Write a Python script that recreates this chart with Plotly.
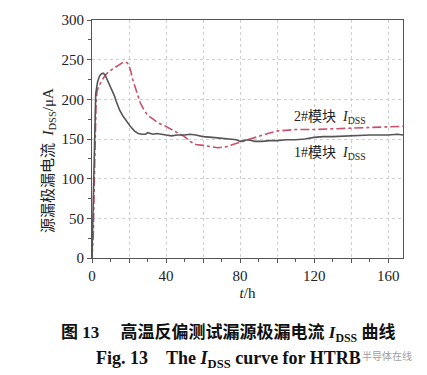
import plotly.graph_objects as go

t1 = [0, 0.5, 1, 1.5, 2, 3, 4, 5, 6, 7, 8, 9, 10, 11, 12, 13, 14, 15, 17, 19, 21, 23, 25, 27, 29, 30, 31, 33, 35, 37, 40, 43, 46, 50, 53, 56, 60, 65, 70, 75, 78, 80, 82, 84, 86, 88, 92, 96, 100, 105, 110, 115, 120, 125, 130, 140, 150, 160, 165, 168]
i1 = [0, 60, 130, 180, 207, 222, 229, 232, 233, 231, 226, 220, 214, 210, 205, 198, 192, 186, 178, 171, 165, 160, 157, 156, 156, 158, 157, 156, 157, 156, 155, 154, 155, 155, 156, 155, 153, 152, 151, 150, 149, 147, 148, 149, 148, 147, 147, 148, 148, 149, 149, 150, 152, 153, 153, 154, 155, 155, 156, 155]

t2 = [0, 0.7, 1.2, 1.7, 2.2, 2.7, 3.5, 5, 7, 9, 11, 13, 15, 17, 18, 19, 20, 21, 22, 24, 26, 28, 30, 33, 36, 39, 42, 46, 50, 53, 56, 60, 65, 68, 72, 76, 80, 85, 90, 95, 100, 105, 110, 120, 130, 140, 150, 160, 168]
i2 = [0, 30, 90, 150, 195, 210, 216, 222, 230, 235, 238, 242, 245, 247, 247, 246, 242, 235, 225, 210, 196, 187, 180, 175, 170, 167, 163, 158, 153, 147, 143, 142, 140, 139, 140, 143, 146, 149, 153, 157, 160, 161, 162, 162, 163, 164, 165, 166, 166]

x_grid = [0, 20, 40, 60, 80, 100, 120, 140, 160]
x_labels = ["0", "", "40", "", "80", "", "120", "", "160"]
y_ticks = [0, 50, 100, 150, 200, 250, 300]

serif = "Liberation Serif, Times New Roman, serif"
cjk = "Liberation Serif, Noto Sans CJK SC, serif"

# page pixel -> paper coordinates (plot area: x 92..403, y 20..258 in page pixels)
def px(x):
    return (x - 92) / 311

def py(y):
    return (258 - y) / 238

fig = go.Figure()
fig.add_trace(go.Scatter(x=t2, y=i2, mode="lines", line=dict(color="#c8506a", width=1.6, dash="dashdot"), showlegend=False))
fig.add_trace(go.Scatter(x=t1, y=i1, mode="lines", line=dict(color="#555555", width=1.6), showlegend=False))

axis_common = dict(showline=True, linecolor="#555", linewidth=1, mirror=True, automargin=False,
                   showgrid=True, gridcolor="#cfcfcf", griddash="dot", gridwidth=1,
                   ticks="outside", ticklen=4, tickcolor="#555", zeroline=False,
                   tickfont=dict(family=serif, size=15, color="#222"))

fig.update_xaxes(range=[0, 168], tickvals=x_grid, ticktext=x_labels, **axis_common,
                 minor=dict(dtick=10, tick0=0, ticks="outside", ticklen=3, tickcolor="#555", showgrid=False),
                 title=dict(text="<i>t</i>/h", font=dict(family=serif, size=15, color="#222"), standoff=4))
fig.update_yaxes(range=[0, 300], tickvals=y_ticks, **axis_common,
                 minor=dict(dtick=25, tick0=0, ticks="outside", ticklen=3, tickcolor="#555", showgrid=False))

fig.add_annotation(xref="paper", yref="paper", x=px(49), y=py(161),
                   text="源漏极漏电流  <i>I</i><sub>DSS</sub>/μA", textangle=-90, showarrow=False,
                   xanchor="center", yanchor="middle", font=dict(family=cjk, size=15, color="#222"))

fig.add_annotation(x=108, y=177, text="2#模块  <i>I</i><sub>DSS</sub>", showarrow=False, xanchor="left",
                   font=dict(family=cjk, size=14, color="#222"))
fig.add_annotation(x=108, y=132, text="1#模块  <i>I</i><sub>DSS</sub>", showarrow=False, xanchor="left",
                   font=dict(family=cjk, size=14, color="#222"))

fig.add_annotation(xref="paper", yref="paper", x=px(228), y=py(333),
                   text="<b>图 13&nbsp;&nbsp;&nbsp;&nbsp;&nbsp;高温反偏测试漏源极漏电流 <i>I</i><sub>DSS</sub> 曲线</b>",
                   showarrow=False, font=dict(family=cjk, size=17, color="#111"), xanchor="center", yanchor="middle")
fig.add_annotation(xref="paper", yref="paper", x=px(228), y=py(359),
                   text="<b>Fig. 13&nbsp;&nbsp;&nbsp;&nbsp;The <i>I</i><sub>DSS</sub> curve for HTRB</b>",
                   showarrow=False, font=dict(family=serif, size=18, color="#111"), xanchor="center", yanchor="middle")
fig.add_annotation(xref="paper", yref="paper", x=px(414), y=py(355), text="半导体在线",
                   showarrow=False, font=dict(family="Noto Sans CJK SC", size=10, color="#a0a0a0"),
                   xanchor="right", yanchor="middle")

# the page body has an 8px default margin, so the figure is sized 8px smaller
fig.update_layout(width=419, height=367, margin=dict(l=84, r=24, t=12, b=117),
                  plot_bgcolor="white", paper_bgcolor="white")
fig.write_html("out.html")
